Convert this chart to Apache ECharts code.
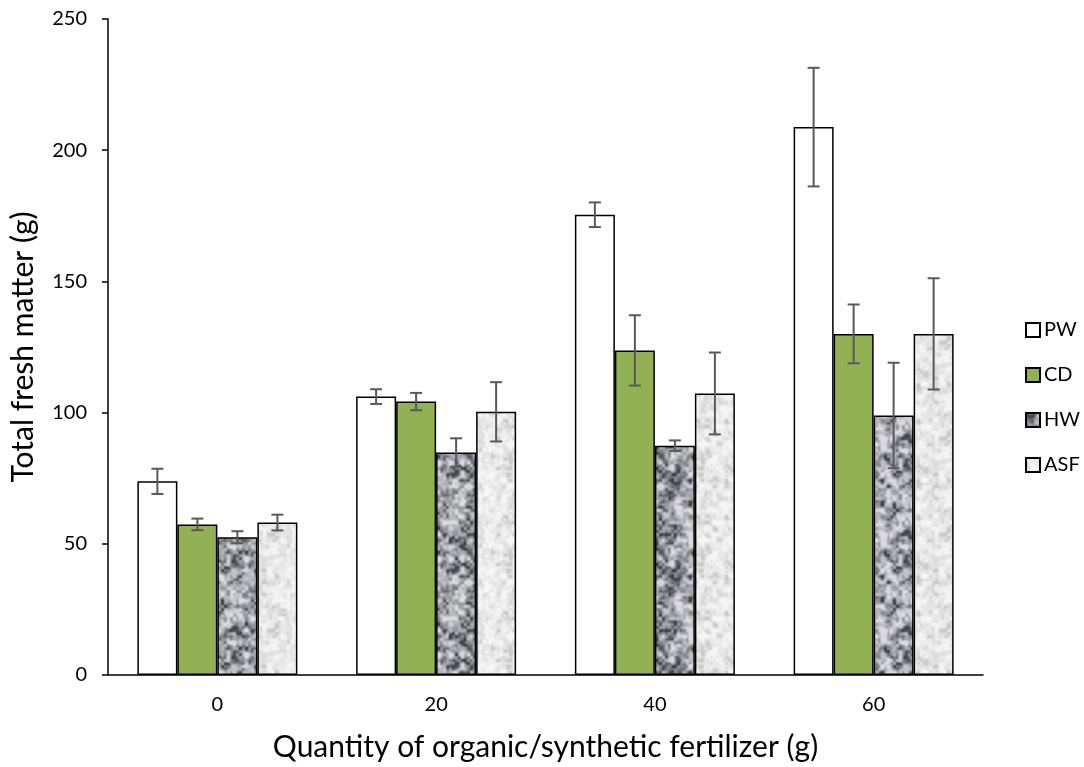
<!DOCTYPE html>
<html>
<head>
<meta charset="utf-8">
<script src="https://cdn.jsdelivr.net/npm/echarts@6/dist/echarts.min.js"></script>
<style>
html,body{margin:0;padding:0;background:#fff;}
#chart{width:1084px;height:767px;}
</style>
</head>
<body>
<div id="chart"></div>
<script>
// ---- data ----
const categories = ['0', '20', '40', '60'];
const seriesNames = ['PW', 'CD', 'HW', 'ASF'];
const pwMean  = [73.8, 106.1, 175.4, 208.8];
const cdMean  = [57.4, 104.2, 123.7, 130.0];
const hwMean  = [52.5, 84.8, 87.4, 98.9];
const asfMean = [58.1, 100.3, 107.3, 130.0];
const pwErr   = [4.8, 2.8, 4.7, 22.6];
const cdErr   = [2.2, 3.3, 13.4, 11.2];
const hwErr   = [2.3, 5.4, 2.0, 20.1];
const asfErr  = [3.0, 11.3, 15.6, 21.2];
const yTicks  = [0, 50, 100, 150, 200, 250];

const means = [pwMean, cdMean, hwMean, asfMean];
const errs = [pwErr, cdErr, hwErr, asfErr];

// ---- texture helpers (fill style only) ----
function hash(i, j, s) {
  const x = Math.sin(i * 127.1 + j * 311.7 + s * 74.7) * 43758.5453;
  return x - Math.floor(x);
}
function noise(x, y, cell, size, seed) {
  const n = size / cell;
  const gx = x / cell, gy = y / cell;
  const i0 = Math.floor(gx), j0 = Math.floor(gy);
  const fx = gx - i0, fy = gy - j0;
  const sx = fx * fx * (3 - 2 * fx), sy = fy * fy * (3 - 2 * fy);
  const h = (i, j) => hash(((i % n) + n) % n, ((j % n) + n) % n, seed);
  const a = h(i0, j0), b = h(i0 + 1, j0), c = h(i0, j0 + 1), d = h(i0 + 1, j0 + 1);
  return (a * (1 - sx) + b * sx) * (1 - sy) + (c * (1 - sx) + d * sx) * sy;
}
function makeTexture(seed, dark, light, gamma) {
  const size = 96;
  const cv = document.createElement('canvas');
  cv.width = cv.height = size;
  const ctx = cv.getContext('2d');
  const img = ctx.createImageData(size, size);
  for (let y = 0; y < size; y++) {
    for (let x = 0; x < size; x++) {
      let v = 0.6 * noise(x, y, 6, size, seed) + 0.4 * noise(x, y, 3, size, seed + 11);
      v = Math.min(1, Math.max(0, (v - 0.5) * 1.8 + 0.5));
      v = Math.pow(v, gamma);
      const k = (y * size + x) * 4;
      for (let ch = 0; ch < 3; ch++) img.data[k + ch] = Math.round(dark[ch] + (light[ch] - dark[ch]) * v);
      img.data[k + 3] = 255;
    }
  }
  ctx.putImageData(img, 0, 0);
  return cv;
}
const hwTex = makeTexture(3, [72, 72, 80], [218, 218, 224], 0.65);
const asfTex = makeTexture(7, [202, 202, 202], [246, 246, 246], 0.55);

const fills = [
  '#ffffff',
  '#92b054',
  { image: hwTex, repeat: 'repeat' },
  { image: asfTex, repeat: 'repeat' }
];

const BAR_W = 40;
const FONT = 'Lato, "Open Sans", sans-serif';

const series = [];
seriesNames.forEach((name, si) => {
  series.push({
    name: name,
    type: 'bar',
    data: means[si],
    barWidth: BAR_W,
    barGap: '0%',
    itemStyle: { color: fills[si], borderColor: '#000', borderWidth: 1.5 },
    emphasis: { disabled: true },
    z: 2
  });
});
seriesNames.forEach((name, si) => {
  const data = categories.map((c, ci) => [ci, means[si][ci], errs[si][ci]]);
  series.push({
    type: 'custom',
    name: name + ' error',
    data: data,
    z: 5,
    silent: true,
    renderItem: function (params, api) {
      const ci = api.value(0), m = api.value(1), e = api.value(2);
      const hi = api.coord([ci, m + e]);
      const lo = api.coord([ci, m - e]);
      const x = hi[0] + (si - 1.5) * BAR_W;
      const cap = 6;
      const st = { stroke: '#595959', lineWidth: 2 };
      return {
        type: 'group',
        children: [
          { type: 'line', shape: { x1: x, y1: hi[1], x2: x, y2: lo[1] }, style: st },
          { type: 'line', shape: { x1: x - cap, y1: hi[1], x2: x + cap, y2: hi[1] }, style: st },
          { type: 'line', shape: { x1: x - cap, y1: lo[1], x2: x + cap, y2: lo[1] }, style: st }
        ]
      };
    }
  });
});

const chart = echarts.init(document.getElementById('chart'), null, { renderer: 'canvas' });
chart.setOption({
  animation: false,
  backgroundColor: '#ffffff',
  textStyle: { fontFamily: FONT },
  grid: { left: 108, right: 101, top: 19, bottom: 92, containLabel: false },
  legend: {
    data: seriesNames,
    orient: 'vertical',
    left: 1020,
    top: 315,
    itemWidth: 14,
    itemHeight: 14,
    itemGap: 25,
    icon: 'rect',
    selectedMode: false,
    textStyle: { fontSize: 20, color: '#000', fontFamily: FONT, padding: [0, 0, 0, -1] }
  },
  xAxis: {
    type: 'category',
    data: categories,
    name: 'Quantity of organic/synthetic fertilizer (g)',
    nameLocation: 'middle',
    nameGap: 57,
    nameTextStyle: { fontSize: 30, color: '#000', fontFamily: FONT },
    axisLine: { lineStyle: { color: '#000', width: 1.5 } },
    axisTick: { show: false },
    axisLabel: { fontSize: 20, color: '#000', margin: 20, fontFamily: FONT },
    splitLine: { show: false }
  },
  yAxis: {
    type: 'value',
    min: yTicks[0],
    max: yTicks[yTicks.length - 1],
    interval: yTicks[1] - yTicks[0],
    name: 'Total fresh matter (g)',
    nameLocation: 'middle',
    nameGap: 70,
    nameTextStyle: { fontSize: 30, color: '#000', fontFamily: FONT },
    axisLine: { show: true, lineStyle: { color: '#000', width: 1.5 } },
    axisTick: { show: true, length: 6, lineStyle: { color: '#000', width: 1.5 } },
    axisLabel: { fontSize: 20, color: '#000', margin: 21, fontFamily: FONT },
    splitLine: { show: false }
  },
  series: series
});
</script>
</body>
</html>
